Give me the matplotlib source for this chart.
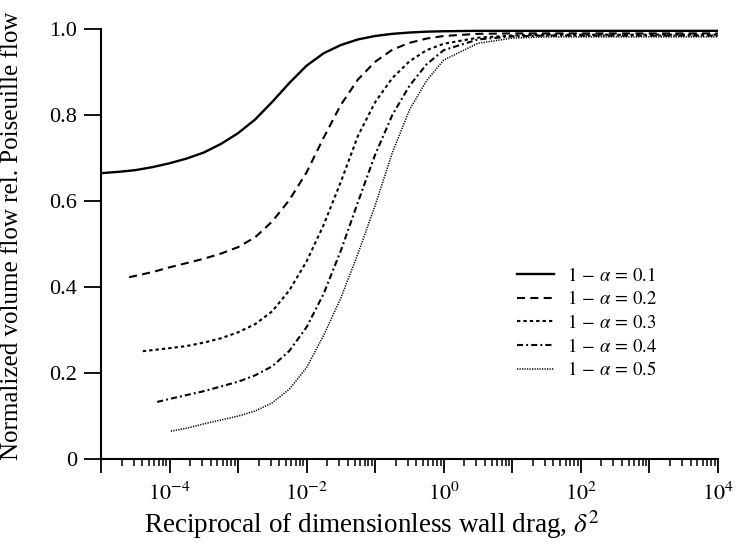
import numpy as np
import matplotlib
matplotlib.use('Agg')
from matplotlib import pyplot as plt
from matplotlib.ticker import LogLocator, FuncFormatter, NullFormatter, FixedLocator

plt.rcParams['font.family'] = 'serif'
plt.rcParams['font.serif'] = ['Liberation Serif', 'DejaVu Serif']
plt.rcParams['mathtext.fontset'] = 'stix'
plt.rcParams['lines.scale_dashes'] = False

# log10 of delta^2 and normalized flow for each 1-alpha
lx1 = [-5, -4.75, -4.5, -4.25, -4, -3.75, -3.5, -3.25, -3, -2.75, -2.5, -2.25, -2, -1.75, -1.5,
       -1.25, -1, -0.75, -0.5, -0.25, 0, 0.5, 4]
q1 = [0.665, 0.668, 0.672, 0.679, 0.688, 0.699, 0.713, 0.733, 0.758, 0.790, 0.831, 0.875, 0.915,
      0.944, 0.963, 0.976, 0.984, 0.989, 0.992, 0.994, 0.995, 0.996, 0.996]

lx2 = [-4.59, -4.25, -4, -3.75, -3.5, -3.25, -3, -2.75, -2.5, -2.25, -2, -1.75, -1.5, -1.25, -1,
       -0.75, -0.5, -0.25, 0, 0.5, 1, 4]
q2 = [0.423, 0.435, 0.446, 0.456, 0.466, 0.478, 0.493, 0.516, 0.553, 0.603, 0.667, 0.748, 0.824,
      0.883, 0.924, 0.952, 0.968, 0.978, 0.984, 0.989, 0.990, 0.990]

lx3 = [-4.39, -4, -3.75, -3.5, -3.25, -3, -2.75, -2.5, -2.25, -2, -1.75, -1.5, -1.25, -1, -0.75,
       -0.5, -0.25, 0, 0.5, 1, 1.5, 4]
q3 = [0.251, 0.258, 0.263, 0.271, 0.281, 0.295, 0.314, 0.344, 0.393, 0.460, 0.545, 0.645, 0.752,
      0.830, 0.886, 0.925, 0.951, 0.966, 0.980, 0.985, 0.987, 0.987]

lx4 = [-4.18, -4, -3.75, -3.5, -3.25, -3, -2.75, -2.5, -2.25, -2, -1.75, -1.5, -1.25, -1, -0.75,
       -0.5, -0.25, 0, 0.5, 1, 1.5, 4]
q4 = [0.133, 0.140, 0.149, 0.158, 0.169, 0.180, 0.195, 0.216, 0.252, 0.307, 0.385, 0.485, 0.598,
      0.708, 0.800, 0.868, 0.918, 0.951, 0.976, 0.983, 0.985, 0.985]

lx5 = [-3.98, -3.75, -3.5, -3.25, -3, -2.75, -2.5, -2.25, -2, -1.75, -1.5, -1.25, -1, -0.75,
       -0.5, -0.25, 0, 0.5, 1, 1.5, 4]
q5 = [0.065, 0.072, 0.082, 0.091, 0.100, 0.112, 0.131, 0.163, 0.213, 0.288, 0.375, 0.478, 0.590,
      0.712, 0.812, 0.880, 0.928, 0.967, 0.979, 0.982, 0.982]

labels = [r'$1\,-\,\alpha\,=\,0.1$', r'$1\,-\,\alpha\,=\,0.2$', r'$1\,-\,\alpha\,=\,0.3$',
          r'$1\,-\,\alpha\,=\,0.4$', r'$1\,-\,\alpha\,=\,0.5$']
styles = ['-', (0, (5.8, 3.8)), (0, (2.4, 2.2)), (0, (4.4, 2.2, 1.4, 2.2)), (0, (0.9, 0.9))]
widths = [1.7, 1.5, 1.5, 1.5, 1.1]

fig = plt.figure(figsize=(7.4, 5.44), dpi=100)
ax = fig.add_axes([0.1365, 0.156, 0.8335, 0.7905])

series = [(lx1, q1), (lx2, q2), (lx3, q3), (lx4, q4), (lx5, q5)]
for (lx, q), lab, ls, lw in zip(series, labels, styles, widths):
    ax.plot(10.0 ** np.array(lx), q, color='black', linestyle=ls, linewidth=lw, label=lab)

ax.set_xscale('log')
ax.set_xlim(1e-5, 1e4)
ax.set_ylim(0, 1.0)

for side in ['top', 'right']:
    ax.spines[side].set_visible(False)
for side in ['left', 'bottom']:
    ax.spines[side].set_linewidth(1.5)

ax.xaxis.set_major_locator(FixedLocator([10.0 ** k for k in range(-5, 5)]))
ax.xaxis.set_major_formatter(FuncFormatter(
    lambda v, pos: r'$10^{%d}$' % round(np.log10(v)) if round(np.log10(v)) % 2 == 0 else ''))
ax.xaxis.set_minor_locator(LogLocator(base=10, subs=np.arange(2, 10), numticks=50))
ax.xaxis.set_minor_formatter(NullFormatter())

ax.set_yticks([0, 0.2, 0.4, 0.6, 0.8, 1.0])
ax.set_yticklabels(['0', '0.2', '0.4', '0.6', '0.8', '1.0'])

ax.tick_params(axis='y', which='major', direction='out', length=12, width=1.3, labelsize=16, pad=5)
ax.tick_params(axis='x', which='major', direction='out', length=10, width=1.3, labelsize=16, pad=7)
ax.tick_params(axis='x', which='minor', direction='out', length=5, width=1.1)

ax.set_xlabel(r'Reciprocal of dimensionless wall drag, $\delta^2$', fontsize=19.5)
ax.set_ylabel('Normalized volume flow rel. Poiseuille flow', fontsize=18)
ax.xaxis.set_label_coords(0.44, -0.115)
ax.yaxis.set_label_coords(-0.127, 0.52)

ax.legend(loc='upper left', bbox_to_anchor=(0.662, 0.465), frameon=False, fontsize=13.5,
          handlelength=2.0, handletextpad=0.7, labelspacing=0.3, borderaxespad=0)

fig.savefig('out.png', dpi=100)
